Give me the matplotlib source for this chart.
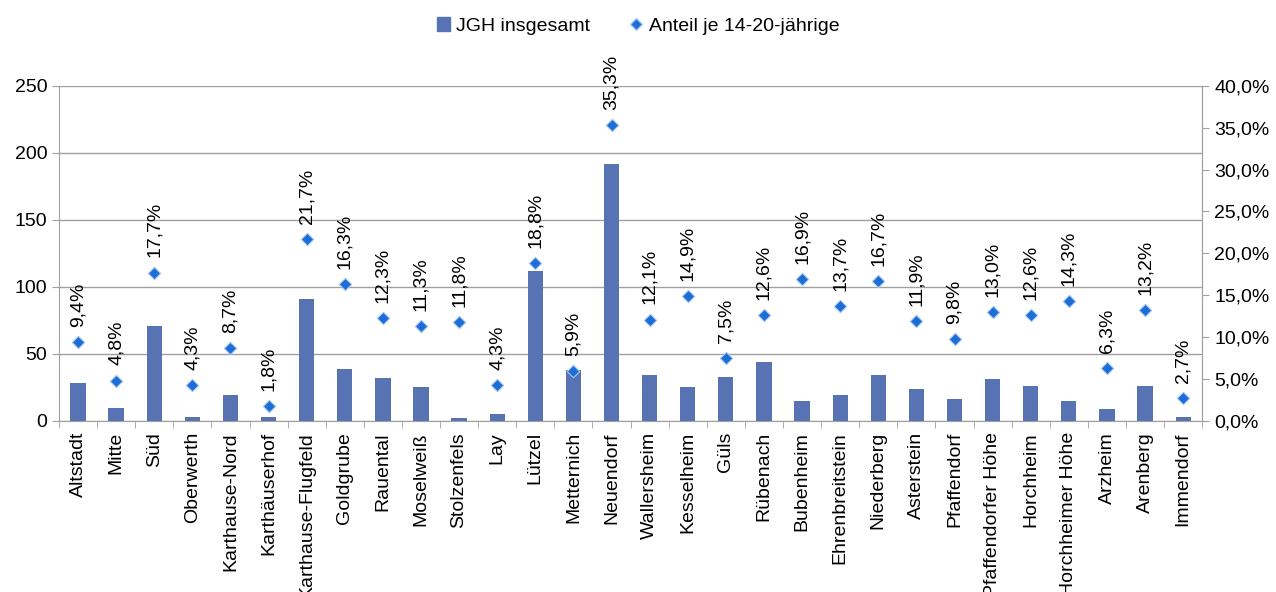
import matplotlib.pyplot as plt
import numpy as np
from matplotlib.lines import Line2D
from matplotlib.patches import Patch

plt.rcParams['font.family'] = ['Liberation Sans', 'DejaVu Sans']

stadtteile = ["Altstadt", "Mitte", "Süd", "Oberwerth", "Karthause-Nord", "Karthäuserhof",
              "Karthause-Flugfeld", "Goldgrube", "Rauental", "Moselweiß", "Stolzenfels", "Lay",
              "Lützel", "Metternich", "Neuendorf", "Wallersheim", "Kesselheim", "Güls",
              "Rübenach", "Bubenheim", "Ehrenbreitstein", "Niederberg", "Asterstein",
              "Pfaffendorf", "Pfaffendorfer Höhe", "Horchheim", "Horchheimer Höhe", "Arzheim",
              "Arenberg", "Immendorf"]
jgh = [28, 10, 71, 3, 19, 3, 91, 39, 32, 25, 2, 5, 112, 38, 192, 34, 25, 33, 44, 15,
       19, 34, 24, 16, 31, 26, 15, 9, 26, 3]
anteil = [9.4, 4.8, 17.7, 4.3, 8.7, 1.8, 21.7, 16.3, 12.3, 11.3, 11.8, 4.3, 18.8, 5.9, 35.3,
          12.1, 14.9, 7.5, 12.6, 16.9, 13.7, 16.7, 11.9, 9.8, 13.0, 12.6, 14.3, 6.3, 13.2, 2.7]

bar_color = "#5873B4"
dot_color = "#1C6ED6"
grid_color = "#A0A0A0"
fs = 14

fig = plt.figure(figsize=(12.76, 5.92), dpi=100)
ax = fig.add_axes([0.0462, 0.289, 0.896, 0.566])
x = np.arange(len(stadtteile))
ax.bar(x, jgh, width=0.4, color=bar_color, zorder=2)
ax.set_xlim(-0.5, len(stadtteile) - 0.5)
ax.set_ylim(0, 250)
ax.set_yticks(range(0, 251, 50))
ax.yaxis.grid(True, color=grid_color, lw=1)
ax.set_axisbelow(True)
ax.set_xticks(x)
ax.set_xticklabels(stadtteile, rotation=90, fontsize=fs)
ax.set_xticks(np.arange(-0.5, len(stadtteile)), minor=True)
ax.tick_params(axis='x', which='major', length=0, pad=8)
ax.tick_params(axis='x', which='minor', length=5, color=grid_color)
ax.tick_params(axis='y', labelsize=fs, length=5, color=grid_color)
ax.spines["top"].set_visible(False)
for s in ["left", "bottom", "right"]:
    ax.spines[s].set_color(grid_color)

ax2 = ax.twinx()
ax2.scatter(x, anteil, marker="D", s=40, color=dot_color, edgecolors="#A9C8F0",
            linewidths=0.8, zorder=3)
ax2.set_ylim(0, 40)
ax2.set_yticks(range(0, 41, 5))
ax2.set_yticklabels([f"{v},0%" for v in range(0, 41, 5)])
ax2.tick_params(axis='y', labelsize=fs, length=5, color=grid_color)
ax2.spines["top"].set_visible(False)
ax2.spines["right"].set_color(grid_color)
ax2.spines["left"].set_visible(False)
ax2.spines["bottom"].set_visible(False)
for xi, v in zip(x, anteil):
    ax2.annotate(f"{v:.1f}%".replace(".", ","), (xi, v), xytext=(0, 11),
                 textcoords="offset points", rotation=90, ha="center", va="bottom",
                 fontsize=fs, annotation_clip=False)

handles = [Patch(color=bar_color, label="JGH insgesamt"),
           Line2D([], [], marker="D", ls="", color=dot_color, markeredgecolor="#A9C8F0",
                  markersize=6, label="Anteil je 14-20-jährige")]
fig.legend(handles=handles, loc="upper center", bbox_to_anchor=(0.5, 1.0), ncol=2,
           frameon=False, fontsize=fs, handlelength=0.7, handletextpad=0.3,
           columnspacing=2.0)

fig.savefig("out.png", dpi=100)
